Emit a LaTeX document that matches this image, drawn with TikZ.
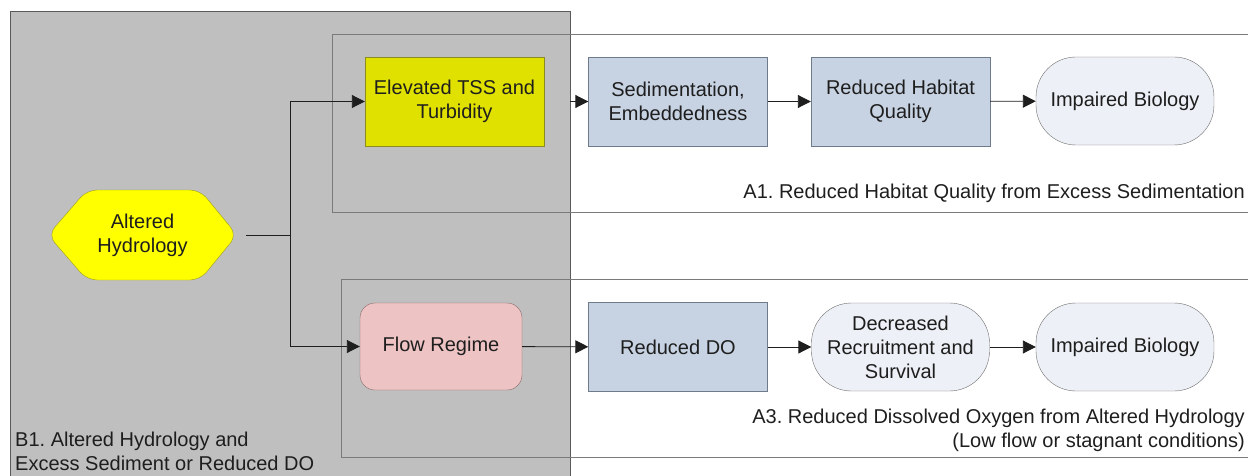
\documentclass[tikz,border=0pt]{standalone}
\usepackage{fontspec}
\setmainfont{Liberation Sans}
\usepackage{tikz}
\usetikzlibrary{arrows.meta, positioning}
\definecolor{groupgray}{HTML}{BFBFBF}
\definecolor{groupline}{HTML}{5A5A5A}
\definecolor{frameline}{HTML}{7A7A7A}
\definecolor{tssfill}{HTML}{E1E100}
\definecolor{tssline}{HTML}{8C8C1E}
\definecolor{hexfill}{HTML}{FFFF00}
\definecolor{hexline}{HTML}{9B9B1E}
\definecolor{boxblue}{HTML}{C7D3E3}
\definecolor{boxline}{HTML}{6D7B8D}
\definecolor{flowpink}{HTML}{EDC3C3}
\definecolor{flowline}{HTML}{8A6A6A}
\definecolor{endfill}{HTML}{EDF0F6}
\definecolor{endline}{HTML}{707070}
\definecolor{txt}{HTML}{1E1E1E}
\tikzstyle{box}=[draw=boxline, fill=boxblue, minimum width=179pt, minimum height=89pt, align=center]
\tikzstyle{endpt}=[draw=endline, fill=endfill, rounded corners=40pt, minimum width=178pt, minimum height=88pt, align=center]
\tikzstyle{frame}=[draw=frameline, anchor=north west]
\tikzstyle{caption}=[inner sep=1pt]
\tikzstyle{link}=[draw=txt, line width=0.9pt, -{Triangle[length=13pt,width=13pt]}]
\tikzstyle{wire}=[draw=txt, line width=0.9pt]
\frenchspacing

\begin{document}
\begin{tikzpicture}[x=1pt, y=-1pt, every node/.style={font=\fontsize{20}{24}\selectfont, text=txt, inner sep=2pt}]
    \useasboundingbox (0,0) rectangle (1248,476);
    \clip (0,0) rectangle (1248,476);
    % group B1 and the two pathways
    \node[draw=groupline, fill=groupgray, anchor=north west, minimum width=560pt, minimum height=480pt] (b1) at (10,11) {};
    \node[frame, minimum width=940pt, minimum height=178pt] (a1) at (332,34) {};
    \node[frame, minimum width=930pt, minimum height=178pt] (a3) at (341,279) {};
    % upper chain
    \node[draw=tssline, fill=tssfill, minimum width=179pt, minimum height=89pt, align=center] (tss) at (454.5,101.5) {Elevated TSS and\\Turbidity};
    \node[box] (sed) at (678,101.5) {Sedimentation,\\Embeddedness};
    \node[box] (rhq) at (900.5,101.5) {Reduced Habitat\\Quality};
    \node[endpt] (imp1) at (1125,101) {Impaired Biology};
    % source
    \filldraw[draw=hexline, fill=hexfill, rounded corners=10pt] (48,235) -- (87,190) -- (200,190) -- (237,235) -- (200,280) -- (87,280) -- cycle;
    \node[minimum width=189pt, minimum height=90pt, align=center] (alt) at (142.5,235) {Altered\\Hydrology};
    % lower chain
    \node[draw=flowline, fill=flowpink, rounded corners=15pt, minimum width=162pt, minimum height=87pt] (flow) at (441,346.5) {Flow Regime};
    \node[box] (rdo) at (678,347) {Reduced DO};
    \node[endpt] (drs) at (900.5,347) {Decreased\\Recruitment and\\Survival};
    \node[endpt] (imp2) at (1125,347) {Impaired Biology};
    % labels
    \node[caption, anchor=east] (a1lbl) at (1246,193) {A1. Reduced Habitat Quality from Excess Sedimentation};
    \node[caption, anchor=east, align=right] (a3lbl) at (1246,430) {A3. Reduced Dissolved Oxygen from Altered Hydrology\\(Low flow or stagnant conditions)};
    \node[caption, anchor=west, align=left] (b1lbl) at (14,451) {B1. Altered Hydrology and\\Excess Sediment or Reduced DO};
    % connectors
    \coordinate (split) at (290,235);
    \draw[wire, shorten <=9pt] (alt.east) -- (split);
    \draw[link] (split) |- (tss.west);
    \draw[link] (split) |- (flow.west);
    \draw[link] (b1.east |- tss.east) -- (sed.west);
    \draw[link] (sed) -- (rhq);
    \draw[link] (rhq) -- (imp1);
    \draw[link] (flow) -- (rdo);
    \draw[link] (rdo) -- (drs);
    \draw[link] (drs) -- (imp2);
\end{tikzpicture}
\end{document}
